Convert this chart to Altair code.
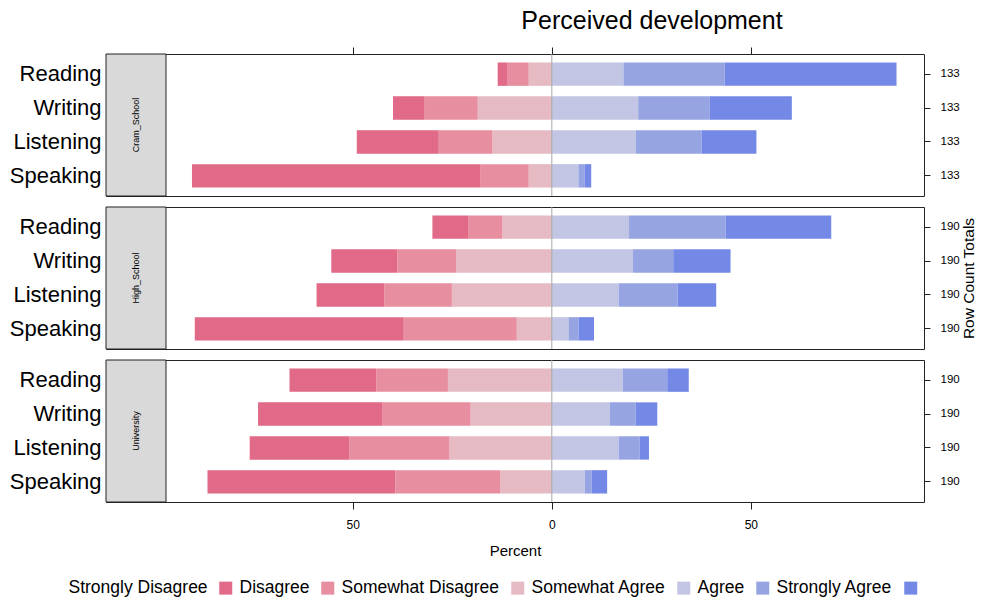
import altair as alt
import pandas as pd

groups = ["Cram_School", "High_School", "University"]
row_totals = [133, 190, 190]
skills = ["Reading", "Writing", "Listening", "Speaking"]
levels = ["Strongly Disagree", "Disagree", "Somewhat Disagree",
          "Somewhat Agree", "Agree", "Strongly Agree"]
colors = ["#E06A87", "#E78FA0", "#E6BAC3", "#C2C6E4", "#96A4E2", "#7489E5"]

# percent of respondents, rows ordered group x skill
strongly_disagree = [2.5, 7.8, 20.6, 72.5, 9.1, 16.6, 17.0, 52.5, 21.8, 31.3, 25.0, 47.2]
disagree          = [5.3, 13.5, 13.5, 12.1, 8.5, 14.8, 17.0, 28.4, 18.0, 22.1, 25.2, 26.3]
somewhat_disagree = [5.8, 18.6, 14.9, 5.8, 12.4, 24.0, 25.1, 8.8, 26.1, 20.4, 25.7, 13.0]
somewhat_agree    = [18.0, 21.7, 21.1, 6.7, 19.4, 20.4, 16.8, 4.2, 17.8, 14.6, 16.8, 8.3]
agree             = [25.4, 18.0, 16.5, 1.5, 24.3, 10.1, 14.8, 2.5, 11.2, 6.5, 5.3, 1.7]
strongly_agree    = [43.2, 20.6, 13.8, 1.7, 26.5, 14.4, 9.7, 3.9, 5.4, 5.4, 2.3, 3.9]

rows = []
k = 0
for g in groups:
    for s in skills:
        neg = [strongly_disagree[k], disagree[k], somewhat_disagree[k]]
        pos = [somewhat_agree[k], agree[k], strongly_agree[k]]
        edge = 0.0
        for lvl, v in zip(levels[2::-1], neg[::-1]):
            rows.append(dict(group=g, skill=s, level=lvl, x0=edge - v, x1=edge))
            edge -= v
        edge = 0.0
        for lvl, v in zip(levels[3:], pos):
            rows.append(dict(group=g, skill=s, level=lvl, x0=edge, x1=edge + v))
            edge += v
        k += 1
df = pd.DataFrame(rows)

FONT = "Liberation Sans"
W, H = 818, 142
XDOM = [-112, 93.5]
INK = "#222222"

# The reference key reads "label, swatch, label, swatch ...".  A leading
# blank entry (transparent swatch) lets each legend label belong visually to
# the swatch that follows it.
LEAD = " "
legend_domain = [LEAD] + levels
legend_range = ["rgba(0,0,0,0)"] + colors
label_expr = "''"
for cur, nxt in reversed(list(zip(legend_domain, legend_domain[1:] + [""]))):
    label_expr = f"datum.value === '{cur}' ? '{nxt}' : ({label_expr})"

legend = alt.Legend(
    title=None, orient="none", legendX=-60, legendY=525, direction="horizontal",
    columns=7, symbolType="square", symbolSize=169, symbolStrokeWidth=0,
    symbolOpacity=1, labelOffset=5, labelExpr=label_expr,
    labelFontSize=17.5, labelFont=FONT, labelColor="black", columnPadding=9,
    labelLimit=300,
)


def panel(i):
    g = groups[i]
    d = df[df.group == g]
    if i == 0:
        xaxis = alt.Axis(orient="top", values=[-50, 0, 50], labels=False, tickSize=7,
                         domain=False, grid=False, title=None, tickColor=INK)
    elif i == len(groups) - 1:
        xaxis = alt.Axis(orient="bottom", values=[-50, 0, 50], labelExpr="abs(datum.value)",
                         tickSize=7, labelPadding=10, domain=False, grid=False,
                         title="Percent", titleFontSize=15, titleFontWeight="normal",
                         titlePadding=13, labelFontSize=12, tickColor=INK)
    else:
        xaxis = None

    yscale = alt.Scale(domain=skills, paddingInner=0.31, paddingOuter=0.25)
    xscale = alt.Scale(domain=XDOM, nice=False, zero=False)

    bars = alt.Chart(d).mark_bar().encode(
        x=alt.X("x0:Q", scale=xscale, axis=xaxis),
        x2="x1:Q",
        y=alt.Y("skill:N", sort=skills, scale=yscale,
                axis=alt.Axis(orient="left", title=None, ticks=False, domain=False,
                              labelFontSize=22, labelPadding=5, labelColor="black")),
        color=alt.Color("level:N",
                        scale=alt.Scale(domain=legend_domain, range=legend_range),
                        legend=legend),
    )

    right_axis_kwargs = dict(orient="right", ticks=True, tickSize=6, tickColor=INK,
                             domain=False, labelFontSize=11.5, labelPadding=10,
                             labelExpr=f"'{row_totals[i]}'", labelColor="black")
    if i == 1:
        right_axis_kwargs.update(title="Row Count Totals", titleAngle=270,
                                 titleBaseline="top", titleFontSize=15.5,
                                 titleFontWeight="normal", titlePadding=2)
    else:
        right_axis_kwargs.update(title=None)

    right = alt.Chart(d).mark_bar(opacity=0).encode(
        x=alt.X("x0:Q", scale=xscale),
        x2="x1:Q",
        y=alt.Y("skill:N", sort=skills, scale=yscale, axis=alt.Axis(**right_axis_kwargs)),
    )

    one = pd.DataFrame({"group": [g]})
    strip = alt.Chart(one).mark_rect(fill="#D9D9D9", stroke=INK, strokeWidth=1).encode(
        x=alt.value(0), x2=alt.value(60), y=alt.value(0), y2=alt.value(H)
    )
    strip_text = alt.Chart(one).mark_text(angle=270, fontSize=9, font=FONT, color="black").encode(
        x=alt.value(30), y=alt.value(H / 2), text="group:N"
    )
    zero = alt.Chart(one).mark_rule(color="#A6A6A6", strokeWidth=1).encode(x=alt.datum(0))

    layer = alt.layer(strip, strip_text, bars, zero, right).resolve_axis(y="independent")
    props = dict(width=W, height=H)
    if i == 0:
        props["title"] = alt.Title("Perceived development", fontSize=25, font=FONT,
                                   fontWeight="normal", color="black", anchor="middle",
                                   dx=137, offset=13)
    return layer.properties(**props)


chart = alt.vconcat(*[panel(i) for i in range(len(groups))], spacing=9).properties(
    padding={"left": 0, "top": 0, "right": 0, "bottom": 0}
).configure_view(stroke=INK, strokeWidth=1).configure_axis(
    labelFont=FONT, titleFont=FONT, titleColor="black"
)

chart.save("out.html", embed_options={"renderer": "svg", "actions": False})
